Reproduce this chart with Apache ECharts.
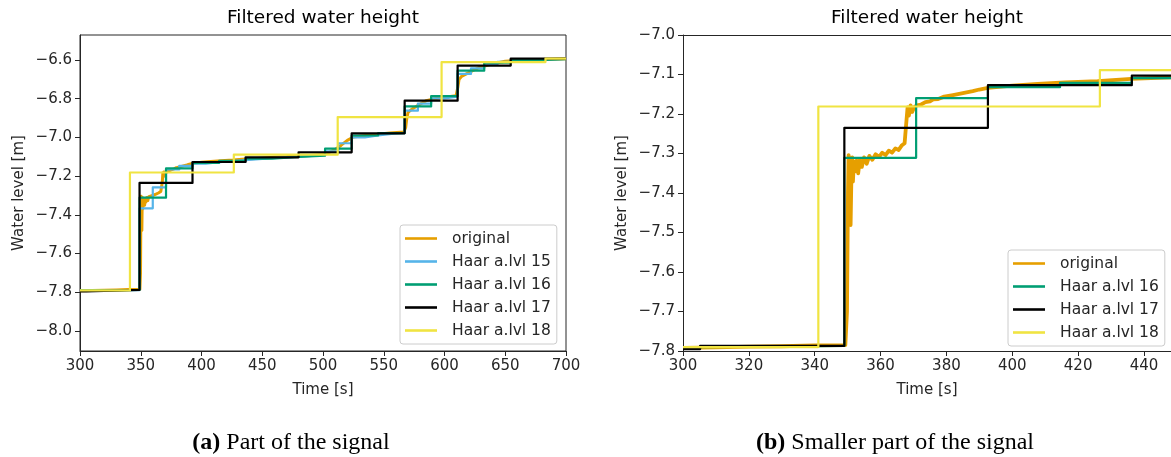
<!DOCTYPE html>
<html>
<head>
<meta charset="utf-8">
<script src="https://cdn.jsdelivr.net/npm/echarts@6/dist/echarts.min.js"></script>
<style>
  html, body { margin: 0; padding: 0; background: #ffffff; }
  #chart { width: 1171px; height: 457px; }
</style>
</head>
<body>
<div id="chart"></div>
<script>
// ---- series names and colours ----
const seriesNames = ['original', 'Haar a.lvl 15', 'Haar a.lvl 16', 'Haar a.lvl 17', 'Haar a.lvl 18'];
const seriesColors = ['#E69F00', '#56B4E9', '#009E73', '#000000', '#F0E442'];

// ---- measured water level [time s, level m] ----
const originalSignal = [
  [300, -7.792], [310, -7.791], [320, -7.789], [330, -7.788], [340, -7.786], [349.3, -7.785],
  [349.8, -7.70], [350.1, -7.40], [350.3, -7.304], [350.6, -7.33], [350.9, -7.481], [351.2, -7.33],
  [351.4, -7.31], [351.6, -7.371], [351.9, -7.32], [352.3, -7.345], [352.7, -7.318], [353.2, -7.35],
  [353.7, -7.316], [354.3, -7.334], [355.0, -7.31], [355.8, -7.326], [356.6, -7.306], [357.5, -7.316],
  [358.5, -7.302], [359.5, -7.309], [360.5, -7.298], [361.5, -7.304], [362.5, -7.293], [363.5, -7.298],
  [364.5, -7.287], [365.5, -7.291], [366.5, -7.279], [367.3, -7.274],
  [367.7, -7.233], [368.2, -7.183], [368.6, -7.204], [369.1, -7.178], [369.6, -7.195], [370.2, -7.183],
  [371, -7.178], [372.3, -7.176], [373.6, -7.170], [375, -7.168], [376, -7.163], [377.5, -7.162],
  [379.3, -7.156], [382, -7.152], [385, -7.147], [388, -7.142], [390, -7.138],
  [392.6, -7.134], [400, -7.128], [407.7, -7.124], [416, -7.120], [425.9, -7.117], [436.1, -7.111],
  [448.6, -7.107], [460, -7.102], [470, -7.100], [480, -7.096], [490, -7.093], [500, -7.088],
  [505, -7.078], [510, -7.062], [515, -7.040], [520, -7.015], [525, -6.998], [535, -6.990],
  [545, -6.983], [555, -6.977], [566.5, -6.972], [568, -6.950], [569, -6.900], [570, -6.870],
  [573, -6.855], [578, -6.835], [585, -6.810], [592, -6.800], [600, -6.792], [609.5, -6.785],
  [611, -6.740], [612, -6.700], [614, -6.685], [620, -6.665], [628, -6.640], [638, -6.622],
  [650, -6.607], [665, -6.600], [680, -6.597], [700, -6.594]
];

// ---- Haar approximations: start time of every step and its level ----
const haar15Starts = [300, 349.0, 359.9, 370.8, 381.7, 392.6, 403.5, 414.5, 425.4, 436.3, 447.2, 458.1,
  469.0, 479.9, 490.8, 501.7, 512.7, 523.6, 534.5, 545.4, 556.3, 567.2, 578.1, 589.0, 599.9, 610.8,
  621.8, 632.7, 643.6, 654.5, 665.4, 676.3, 687.2];
const haar15Levels = [-7.789, -7.366, -7.258, -7.165, -7.147, -7.136, -7.128, -7.122, -7.117, -7.112,
  -7.107, -7.103, -7.099, -7.096, -7.092, -7.072, -7.030, -7.000, -6.990, -6.982, -6.976, -6.862,
  -6.825, -6.798, -6.789, -6.672, -6.643, -6.622, -6.610, -6.603, -6.598, -6.596, -6.594];

const haar16Starts = [300, 305.2, 327.1, 349.0, 370.8, 392.6, 414.5, 436.3, 458.1, 479.9, 501.7, 523.6,
  545.4, 567.2, 589.0, 610.8, 632.7, 654.5, 676.3];
const haar16Levels = [-7.790, -7.789, -7.787, -7.311, -7.160, -7.132, -7.121, -7.109, -7.101, -7.094,
  -7.058, -6.990, -6.978, -6.840, -6.787, -6.655, -6.614, -6.601, -6.596];

const haar17Starts = [300, 305.2, 349.0, 392.6, 436.3, 479.9, 523.6, 567.2, 610.8, 654.5];
const haar17Levels = [-7.795, -7.787, -7.235, -7.127, -7.103, -7.077, -6.979, -6.810, -6.629, -6.593];

const haar18Starts = [300, 341.1, 426.6, 512.1, 597.6, 683.1];
const haar18Levels = [-7.790, -7.181, -7.089, -6.895, -6.611, -6.593];

const signalEnd = 700;

// ---- axis ticks ----
const leftTimeTicks = [300, 350, 400, 450, 500, 550, 600, 650, 700];
const leftLevelTicks = [-8.0, -7.8, -7.6, -7.4, -7.2, -7.0, -6.8, -6.6];
const rightTimeTicks = [300, 320, 340, 360, 380, 400, 420, 440];
const rightLevelTicks = [-7.8, -7.7, -7.6, -7.5, -7.4, -7.3, -7.2, -7.1, -7.0];

// ---- text ----
const chartTitle = 'Filtered water height';
const timeLabel = 'Time [s]';
const levelLabel = 'Water level [m]';
const captionA = ['(a)', ' Part of the signal'];
const captionB = ['(b)', ' Smaller part of the signal'];

// ---------------------------------------------------------------
const FONT = 'DejaVu Sans';
const INK = '#262626';
const TICK_SIZE = 15;

function stepData(starts, levels) {
  const pts = starts.map((t, i) => [t, levels[i]]);
  pts.push([signalEnd, levels[levels.length - 1]]);
  return pts;
}

const stepSets = [
  null,
  stepData(haar15Starts, haar15Levels),
  stepData(haar16Starts, haar16Levels),
  stepData(haar17Starts, haar17Levels),
  stepData(haar18Starts, haar18Levels)
];

function minusFmt(v) {
  return (v < 0 ? '\u2212' : '') + Math.abs(v).toFixed(1);
}

function xAxisFor(gridIndex, min, max, ticks) {
  return {
    gridIndex, type: 'value', min, max,
    name: timeLabel, nameLocation: 'middle', nameGap: 32,
    nameTextStyle: { fontFamily: FONT, fontSize: TICK_SIZE, color: INK },
    axisLine: { show: true, onZero: false, lineStyle: { color: INK, width: 1 } },
    axisTick: { show: true, inside: false, length: 5, customValues: ticks, lineStyle: { color: INK, width: 1 } },
    axisLabel: { customValues: ticks, fontFamily: FONT, fontSize: TICK_SIZE, color: INK, margin: 8,
      formatter: v => String(v) },
    splitLine: { show: false }
  };
}

// plain top frame edge for the right panel (its right edge runs off the page)
function topEdgeFor(gridIndex, min, max) {
  return {
    gridIndex, type: 'value', min, max, position: 'top',
    axisLine: { show: true, onZero: false, lineStyle: { color: INK, width: 1 } },
    axisTick: { show: false }, axisLabel: { show: false }, splitLine: { show: false }
  };
}

function yAxisFor(gridIndex, min, max, ticks, gap) {
  return {
    gridIndex, type: 'value', min, max,
    name: levelLabel, nameLocation: 'middle', nameGap: gap, nameRotate: 90,
    nameTextStyle: { fontFamily: FONT, fontSize: TICK_SIZE, color: INK },
    axisLine: { show: true, onZero: false, lineStyle: { color: INK, width: 1 } },
    axisTick: { show: true, inside: false, length: 5, customValues: ticks, lineStyle: { color: INK, width: 1 } },
    axisLabel: { customValues: ticks, fontFamily: FONT, fontSize: TICK_SIZE, color: INK, margin: 8,
      formatter: minusFmt },
    splitLine: { show: false }
  };
}

function buildSeries(axisIndex, yIndex, which, originalWidth) {
  return which.map(i => {
    const s = {
      type: 'line', name: seriesNames[i], xAxisIndex: axisIndex, yAxisIndex: yIndex,
      data: i === 0 ? originalSignal : stepSets[i],
      color: seriesColors[i], showSymbol: false, symbol: 'none', silent: true, clip: true,
      lineStyle: { color: seriesColors[i], width: i === 0 ? originalWidth : 2.2, join: 'round' },
      z: 2 + i
    };
    if (i !== 0) s.step = 'end';
    return s;
  });
}

function legendFor(names, left, top) {
  return {
    data: names, left, top, orient: 'vertical', icon: 'rect',
    itemWidth: 32, itemHeight: 2.6, itemGap: 6, selectedMode: false,
    textStyle: { fontFamily: FONT, fontSize: 15.5, color: INK, lineHeight: 17, padding: [0, 0, 0, 10] },
    backgroundColor: 'rgba(255,255,255,0.8)', borderColor: '#cccccc', borderWidth: 1, borderRadius: 3,
    padding: [5, 6, 5, 5]
  };
}

function caption(parts, x) {
  return {
    type: 'text', x, y: 443,
    style: {
      text: '{b|' + parts[0] + '}{r|' + parts[1] + '}',
      textAlign: 'center', textVerticalAlign: 'middle',
      rich: {
        b: { fontFamily: 'Liberation Serif', fontSize: 24, fontWeight: 'bold', fill: '#000' },
        r: { fontFamily: 'Liberation Serif', fontSize: 24, fill: '#000' }
      }
    }
  };
}

function titleText(x) {
  return {
    type: 'text', x, y: 18,
    style: { text: chartTitle, textAlign: 'center', textVerticalAlign: 'middle',
      fontFamily: FONT, fontSize: 18.5, fill: '#000' }
  };
}

const rightMaxTime = 448.2;

const chart = echarts.init(document.getElementById('chart'), null, { renderer: 'canvas' });

chart.setOption({
  animation: false,
  backgroundColor: '#ffffff',
  grid: [
    { left: 80, top: 35, width: 486, height: 316, show: true, borderColor: INK, borderWidth: 1, backgroundColor: 'transparent' },
    { left: 683, top: 35, right: 0, height: 316, show: false }
  ],
  xAxis: [
    xAxisFor(0, 300, 700, leftTimeTicks),
    xAxisFor(1, 300, rightMaxTime, rightTimeTicks),
    topEdgeFor(1, 300, rightMaxTime)
  ],
  yAxis: [
    yAxisFor(0, -8.103, -6.471, leftLevelTicks, 53),
    yAxisFor(1, -7.8, -7.0, rightLevelTicks, 53)
  ],
  legend: [
    legendFor(seriesNames, 400, 225),
    legendFor([seriesNames[0], seriesNames[2], seriesNames[3], seriesNames[4]], 1008, 250)
  ],
  series: buildSeries(0, 0, [0, 1, 2, 3, 4], 3).concat(buildSeries(1, 1, [0, 2, 3, 4], 3.8)),
  graphic: [
    titleText(323),
    titleText(927),
    caption(captionA, 291),
    caption(captionB, 895)
  ]
});
</script>
</body>
</html>
